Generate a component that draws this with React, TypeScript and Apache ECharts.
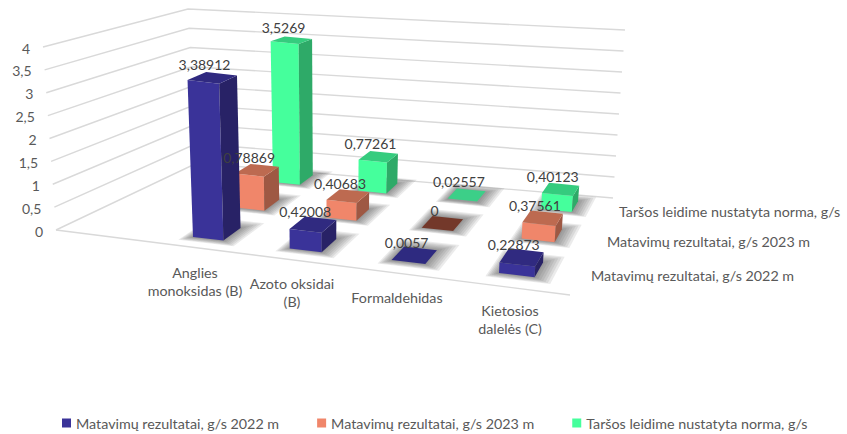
import React, { useEffect, useRef } from "react";
import * as echarts from "echarts";

const categories = ["Anglies\nmonoksidas (B)", "Azoto oksidai\n(B)", "Formaldehidas", "Kietosios\ndalelės (C)"];
const seriesNames = ["Matavimų rezultatai, g/s 2022 m", "Matavimų rezultatai, g/s 2023 m", "Taršos leidime nustatyta norma, g/s"];
const values2022 = [3.38912, 0.42008, 0.0057, 0.22873];
const values2023 = [0.78869, 0.40683, 0, 0.37561];
const valuesNorm = [3.5269, 0.77261, 0.02557, 0.40123];
const valueTicks = [0, 0.5, 1, 1.5, 2, 2.5, 3, 3.5, 4];

const W = 847, H = 434;
const FONT = "Lato";
const TEXT = "#595959";
const GRID = "#d9d9d9";
const palette = [
  { front: "#3a3399", side: "#282266", top: "#302a80", zero: "#2e2a80" },
  { front: "#f0866a", side: "#9e5843", top: "#bd6a50", zero: "#73382a" },
  { front: "#45ff9c", side: "#2eaa68", top: "#35cc7e", zero: "#3ccf88" },
];
const shadowLayers = [1, 0.85, 0.7, 0.55, 0.4, 0.25, 0.1];

// projection of the 3D scene
const q = [[193, 237], [499, 273], [541, 209], [273, 182]];
function makeHomography() {
  const [[x0, y0], [x1, y1], [x2, y2], [x3, y3]] = q;
  const dx1 = x1 - x2, dx2 = x3 - x2, sx = x0 - x1 + x2 - x3;
  const dy1 = y1 - y2, dy2 = y3 - y2, sy = y0 - y1 + y2 - y3;
  const det = dx1 * dy2 - dx2 * dy1;
  const g = (sx * dy2 - dx2 * sy) / det;
  const h = (dx1 * sy - sx * dy1) / det;
  const a = x1 - x0 + g * x1, b = x3 - x0 + h * x3;
  const d = y1 - y0 + g * y1, e = y3 - y0 + h * y3;
  return (u: number, w: number) => {
    const s = u / 3, t = w / 2;
    const m = g * s + h * t + 1;
    return [(a * s + b * t + x0) / m, (d * s + e * t + y0) / m];
  };
}
const floor = makeHomography();
const BW = 0.32, BD = 0.4;
function project(u: number, w: number, v: number) {
  const [x, y] = floor(u, w);
  const scale = 46.3 - 3.2 * w;
  return [x + ((x - 330) / 85) * v, y - scale * v];
}
const lerp = (a: number[], b: number[], t: number) => [a[0] + (b[0] - a[0]) * t, a[1] + (b[1] - a[1]) * t];
const wall = {
  frontLeft: (v: number) => lerp([56, 230], [43, 47], v / 4),
  backLeft: (v: number) => lerp([197, 163], [188, 9], v / 4),
  backRight: (v: number) => lerp([613, 198], [625, 30], v / 4),
};
const catLabelPos = [[195, 281], [292, 292], [397, 297], [510, 319]];
const depthLabelPos = [[591, 275], [607, 241], [619, 211]];

const fmt = (v: number) => String(v).replace(".", ",");

function barSeries(j: number, values: number[]) {
  const c = palette[j];
  return {
    type: "custom",
    name: seriesNames[j],
    itemStyle: { color: c.front },
    silent: true,
    clip: false,
    data: values.map((v, i) => [i, v]),
    renderItem: (_: any, api: any) => {
      const i = api.value(0), v = api.value(1);
      const P = (u: number, w: number, h: number) => {
        const p = project(i + u * BW, j + w * BD, h);
        return api.coord(p);
      };
      const z = 10 + (2 - j) * 10 + i;
      const fl = P(0, 0, v), fr = P(1, 0, v), br = P(1, 1, v), bl = P(0, 1, v);
      const fl0 = P(0, 0, 0), fr0 = P(1, 0, 0), br0 = P(1, 1, 0);
      const S = (u: number, w: number) => P(u, w, 0);
      const children: any[] = shadowLayers.map((e) => ({
        type: "polygon", z2: 1,
        shape: {
          points: [
            S(-e * 0.3, -e * 0.3),
            S(1 + e * 0.5, -e * 0.3),
            S(1 + e * 0.5, 1 + e * 0.55),
            S(-e * 0.3, 1 + e * 0.55),
          ],
        },
        style: { fill: "rgba(70,70,70,0.11)" },
      }));
      if (v > 0.03) {
        children.push(
          { type: "polygon", z2: z, shape: { points: [fl, fr, fr0, fl0] }, style: { fill: c.front } },
          { type: "polygon", z2: z, shape: { points: [fr, br, br0, fr0] }, style: { fill: c.side } },
          { type: "polygon", z2: z, shape: { points: [fl, fr, br, bl] }, style: { fill: c.top } },
        );
      } else {
        children.push({ type: "polygon", z2: z, shape: { points: [fl, fr, br, bl] }, style: { fill: c.zero } });
      }
      const center = P(0.5, 0.5, v);
      children.push({
        type: "text", z2: 100, x: center[0] - 8, y: center[1] - 13,
        style: { text: fmt(v), fontFamily: FONT, fontSize: 14, fill: "#404040", align: "center", verticalAlign: "middle" },
      });
      return { type: "group", children };
    },
  };
}

function buildOption(): any {
  return {
    animation: false,
    backgroundColor: "#fff",
    grid: { left: 0, right: 0, top: 0, bottom: 0 },
    xAxis: { type: "value", min: 0, max: W, show: false },
    yAxis: { type: "value", min: 0, max: H, inverse: true, show: false },
    legend: {
      data: seriesNames,
      left: 57,
      top: 411,
      itemWidth: 9,
      itemHeight: 9,
      itemGap: 38,
      icon: "rect",
      selectedMode: false,
      textStyle: { fontFamily: FONT, fontSize: 14.3, color: TEXT },
    },
    series: [
      {
        type: "custom", silent: true, clip: false,
        data: valueTicks.map((t) => [t, 0]),
        renderItem: (_: any, api: any) => {
          const v = api.value(0);
          const a = api.coord(wall.frontLeft(v)), b = api.coord(wall.backLeft(v)), c = api.coord(wall.backRight(v));
          return {
            type: "group",
            children: [
              { type: "polyline", z2: 0, shape: { points: [a, b, c] }, style: { stroke: GRID, lineWidth: 1.4, fill: "none" } },
              {
                type: "text", x: a[0] - 13, y: a[1] + 1,
                style: { text: fmt(v), fontFamily: FONT, fontSize: 14, fill: TEXT, align: "right", verticalAlign: "middle" },
              },
            ],
          };
        },
      },
      {
        type: "custom", silent: true, clip: false,
        data: categories.map((_, i) => [i, 0]),
        renderItem: (_: any, api: any) => {
          const i = api.value(0);
          const p = api.coord(catLabelPos[i]);
          return {
            type: "text", x: p[0], y: p[1],
            style: { text: categories[i], fontFamily: FONT, fontSize: 14.3, lineHeight: 18, fill: TEXT, align: "center", verticalAlign: "middle" },
          };
        },
      },
      {
        type: "custom", silent: true, clip: false,
        data: seriesNames.map((_, i) => [i, 0]),
        renderItem: (_: any, api: any) => {
          const i = api.value(0);
          const p = api.coord(depthLabelPos[i]);
          return {
            type: "text", x: p[0], y: p[1],
            style: { text: seriesNames[i], fontFamily: FONT, fontSize: 14.3, fill: TEXT, align: "left", verticalAlign: "middle" },
          };
        },
      },
      {
        type: "custom", silent: true, clip: false,
        data: [[0, 0]],
        renderItem: (_: any, api: any) => ({
          type: "line", z2: 0,
          shape: {
            x1: api.coord([56, 230])[0], y1: api.coord([56, 230])[1],
            x2: api.coord([570, 295])[0], y2: api.coord([570, 295])[1],
          },
          style: { stroke: GRID, lineWidth: 1.4 },
        }),
      },
      barSeries(2, valuesNorm),
      barSeries(1, values2023),
      barSeries(0, values2022),
    ],
  };
}

export default function App() {
  const ref = useRef<HTMLDivElement>(null);
  useEffect(() => {
    const chart = echarts.init(ref.current!, undefined, { renderer: "svg" });
    chart.setOption(buildOption());
    return () => chart.dispose();
  }, []);
  return <div ref={ref} style={{ position: "absolute", left: 0, top: 0, width: W, height: H }} />;
}
